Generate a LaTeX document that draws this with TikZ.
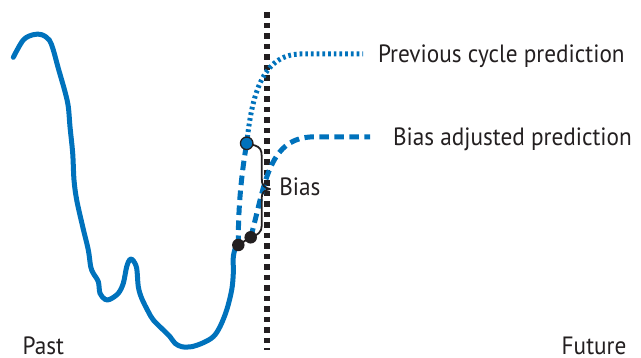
\documentclass[tikz,border=0pt]{standalone}
\usepackage{fontspec}
\setmainfont{PT Sans}[FakeStretch=0.93]
\definecolor{cblue}{RGB}{0,114,188}
\definecolor{cblack}{RGB}{35,31,32}
\tikzset{
  lbl/.style={anchor=base west,inner sep=0pt,outer sep=0pt,text=cblack,font=\fontsize{25}{30}\selectfont},
  series/.style={draw=cblue,line width=5pt},
  dotline/.style={series,dash pattern=on 2.7pt off 3pt},
  dashline/.style={series,dash pattern=on 9.5pt off 5.5pt},
  bdot/.style={circle,fill=cblack,minimum size=12.5pt,inner sep=0pt},
  udot/.style={circle,fill=cblue,draw=cblack,line width=1.3pt,minimum size=12.5pt,inner sep=0pt},
}
\begin{document}
\begin{tikzpicture}[x=1pt,y=-1pt]
\useasboundingbox (0,0) rectangle (641,358);
% now line
\coordinate (ntop) at (267,12.4);
\coordinate (nbot) at (267,350);
\draw[cblack,line width=5.3pt,dash pattern=on 5.3pt off 5.2pt] (ntop) -- (nbot);
% past curve
\draw[series,line cap=round,line join=round] plot[smooth,tension=0.55] coordinates {
(13.3,57.3) (23.3,40) (33.3,34.7) (41.7,34.7) (49.3,40) (53.3,50) (58.3,68.3) (65,91.7) (68.3,106.7) (70,126.7) (72.7,153.3) (74,180) (76.7,200) (82.7,226.7) (88.3,250) (90.7,266.7) (93.3,273.3) (98.3,281.7) (100,293.3) (105,299.3) (110,299.3) (118.3,293.3) (123.3,283.3) (126.7,266.7) (130,259.3) (133.3,260.7) (136.7,268.3) (138.3,286.7) (141.7,298.3) (148.3,311.7) (153.3,320) (163.3,330) (170,336.7) (175,343.3) (181.7,346.7) (191.7,346.7) (203.3,342.7) (213.3,336.7) (220,326.7) (226.7,310) (231.7,290) (233.3,273.3) (233.3,256.7) (236,246)};
% dots positions
\coordinate (p1) at (238.3,245);
\coordinate (p2) at (250.7,237.3);
\coordinate (pu) at (246.7,143.3);
\coordinate (prevend) at (363,54);
\coordinate (biasend) at (370,137);
% previous cycle prediction
\draw[dashline] (p1) .. controls (238,200) and (243,165) .. (pu);
\draw[dotline] (pu) .. controls (252,95) and (262,55) .. (300,54) -- (prevend);
% bias adjusted prediction
\draw[dashline] (p2) .. controls (265,185) and (268,140) .. (310,137) -- (biasend);
% brace
\draw[cblack,line width=1.8pt,line join=round] (pu) -- (255,145.5) .. controls (260,147) and (261.7,150) .. (261.7,156) -- (261.7,178) .. controls (261.7,185) and (264,188) .. (270,189)
  .. controls (264,190) and (261.7,193) .. (261.7,198) -- (261.7,226) .. controls (261.7,232) and (258,235) .. (p2);
\draw[cblack,line width=1.8pt] (p1) -- (p2);
\node[bdot] (d1) at (p1) {};
\node[bdot] (d2) at (p2) {};
\node[udot] (du) at (pu) {};
% labels
\node[lbl] (tprev) at (378,62.7) {Previous cycle prediction};
\node[lbl] (tbias) at (393,146) {Bias adjusted prediction};
\node[lbl] (tb) at (279.3,195.7) {Bias};
\node[lbl] (tpast) at (22.7,355) {Past};
\node[lbl] (tfut) at (561.7,355) {Future};
\end{tikzpicture}
\end{document}
